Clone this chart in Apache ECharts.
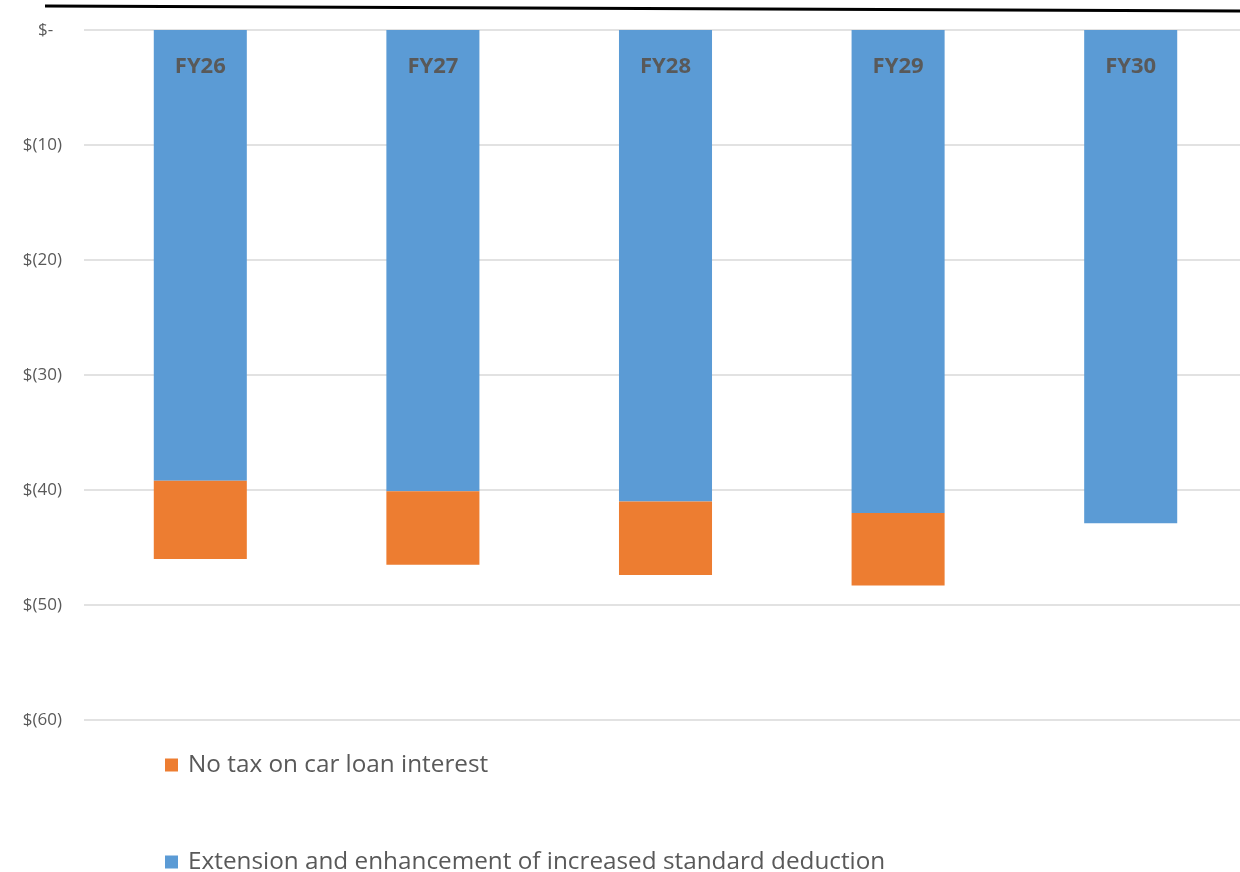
<!DOCTYPE html>
<html>
<head>
    <meta charset="UTF-8"/>
    <title>Chart</title>
    <script src="https://cdn.jsdelivr.net/npm/echarts@6/dist/echarts.min.js"></script>
    <style>
        html, body { margin: 0; padding: 0; background: #fff; }
        #charts { width: 1240px; height: 872px; }
    </style>
</head>
<body>
<div id="charts"></div>
<script>
    // data (billions, negative = cost)
    var years = ['FY26', 'FY27', 'FY28', 'FY29', 'FY30'];
    var stdDeduction = [-39.2, -40.1, -41.0, -42.0, -42.9];
    var carLoan = [-6.8, -6.4, -6.4, -6.3, 0];
    var yTicks = [0, -10, -20, -30, -40, -50, -60];

    var nameCar = 'No tax on car loan interest';
    var nameStd = 'Extension and enhancement of increased standard deduction';

    var textColor = '#595959';
    var font = '"Open Sans", sans-serif';

    var myChart = echarts.init(document.getElementById('charts'));

    function legendAt(top, name) {
        return {
            left: 160,
            top: top,
            itemWidth: 13,
            itemHeight: 13,
            icon: 'rect',
            textStyle: { color: textColor, fontSize: 24.3, fontFamily: font, padding: [0, 0, 0, 5] },
            data: [name]
        };
    }

    var option = {
        animation: false,
        textStyle: { fontFamily: font },
        grid: {
            left: 84,
            top: 30,
            width: 1163,
            height: 690,
            outerBoundsMode: 'none'
        },
        legend: [legendAt(748, nameCar), legendAt(845, nameStd)],
        xAxis: {
            type: 'category',
            position: 'top',
            data: years,
            z: 10,
            axisLine: { show: false },
            axisTick: { show: false },
            axisLabel: {
                inside: true,
                margin: 26,
                color: textColor,
                fontWeight: 'bold',
                fontSize: 22,
                fontFamily: font
            }
        },
        yAxis: {
            type: 'value',
            min: -60,
            max: 0,
            interval: 10,
            axisLine: { show: false },
            axisTick: { show: false },
            splitLine: { lineStyle: { color: '#d9d9d9', width: 1.5 } },
            axisLabel: {
                margin: 22,
                color: textColor,
                fontSize: 17,
                fontFamily: font,
                formatter: function (v) {
                    if (yTicks.indexOf(v) < 0) return '';
                    return v === 0 ? '$-  ' : '$(' + Math.abs(v) + ')';
                }
            }
        },
        series: [
            {
                name: nameStd,
                type: 'bar',
                stack: 'total',
                barWidth: '40%',
                itemStyle: { color: '#5B9BD5' },
                data: stdDeduction
            },
            {
                name: nameCar,
                type: 'bar',
                stack: 'total',
                barWidth: '40%',
                itemStyle: { color: '#ED7D31' },
                data: carLoan
            }
        ],
        graphic: [
            {
                type: 'line',
                shape: { x1: 45, y1: 6, x2: 1240, y2: 11 },
                style: { stroke: '#000', lineWidth: 3 }
            }
        ]
    };
    myChart.setOption(option);
</script>
</body>
</html>
